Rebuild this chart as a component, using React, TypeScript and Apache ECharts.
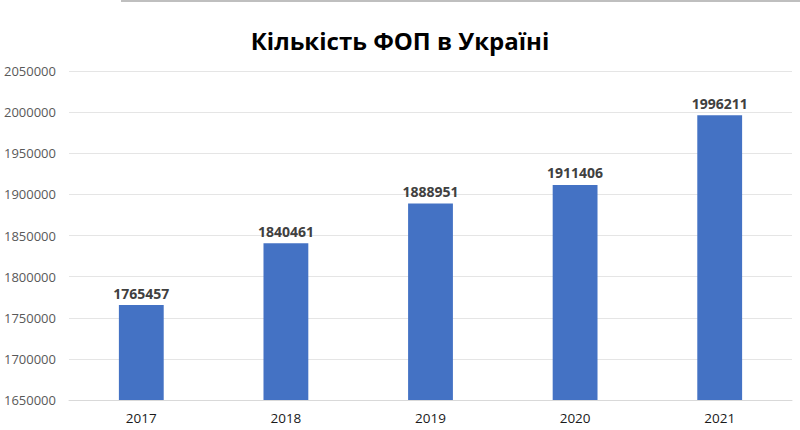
import React, { useEffect, useRef } from "react";
import * as echarts from "echarts";

const years = ["2017", "2018", "2019", "2020", "2021"];
const counts = [1765457, 1840461, 1888951, 1911406, 1996211];
const titleText = "Кількість ФОП в Україні";

export default function App() {
  const ref = useRef<HTMLDivElement>(null);
  useEffect(() => {
    const chart = echarts.init(ref.current!, null, { renderer: "svg" });
    chart.setOption({
      animation: false,
      backgroundColor: "#ffffff",
      title: {
        text: titleText,
        left: "center",
        top: 23,
        textStyle: {
          fontFamily: "Open Sans",
          fontWeight: "bold",
          fontSize: 24,
          color: "#000000",
        },
      },
      graphic: [
        {
          type: "line",
          shape: { x1: 121, y1: 1, x2: 800, y2: 1 },
          style: { stroke: "#bfbfbf", lineWidth: 2 },
        },
      ],
      grid: { left: 69, right: 8, top: 71, bottom: 30, containLabel: false },
      xAxis: {
        type: "category",
        data: years,
        axisLine: { show: true, lineStyle: { color: "#d9d9d9" } },
        axisTick: { show: false },
        axisLabel: {
          color: "#1a1a1a",
          fontFamily: "Open Sans",
          fontSize: 13.5,
          margin: 11,
        },
      },
      yAxis: {
        type: "value",
        min: 1650000,
        max: 2050000,
        interval: 50000,
        axisLine: { show: false },
        axisTick: { show: false },
        splitLine: { lineStyle: { color: "#e5e5e5", width: 1 } },
        axisLabel: {
          color: "#595959",
          fontFamily: "Open Sans",
          fontSize: 13,
          margin: 13,
          formatter: (v: number) => String(v),
        },
      },
      series: [
        {
          type: "bar",
          data: counts,
          barWidth: "31%",
          itemStyle: { color: "#4472C4" },
          label: {
            show: true,
            position: "top",
            distance: 5,
            color: "#404040",
            fontFamily: "Open Sans",
            fontWeight: "bold",
            fontSize: 14,
          },
        },
      ],
    });
    return () => chart.dispose();
  }, []);
  return <div ref={ref} style={{ width: 800, height: 430, position: "absolute", left: 0, top: 0 }} />;
}
